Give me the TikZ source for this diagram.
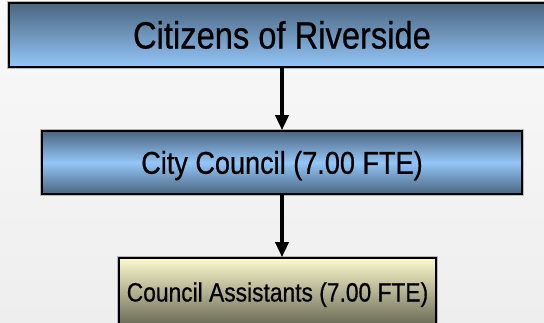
\documentclass[tikz,border=0pt]{standalone}
\usepackage{fontspec}
\newfontfamily\orgfont{Liberation Sans}[FakeStretch=0.86, FakeBold=0.6]
\usetikzlibrary{positioning, arrows.meta}
\definecolor{orgslate}{RGB}{74,101,128}
\definecolor{orgsky}{RGB}{148,198,248}
\definecolor{orgcream}{RGB}{252,250,206}
\definecolor{orgolive}{RGB}{104,104,84}
\definecolor{orgback}{RGB}{249,249,249}
\definecolor{orgbackdark}{RGB}{238,238,238}

\tikzset{
    orgbox/.style={draw=black, line width=1.6pt, inner sep=0pt,
        preaction={draw=gray!55, line width=3.4pt}},
    orglink/.style={line width=3.5pt, -{Triangle[width=13pt, length=15pt]}}
}

\begin{document}
\begin{tikzpicture}[x=1pt, y=-1pt, every node/.style={font=\orgfont}]
    \useasboundingbox (0,0) rectangle (544,322);
    \clip (0,0) rectangle (544,322);
    \shade[top color=orgback, bottom color=orgbackdark] (0,0) rectangle (544,322);

    % three levels, the top one runs off the right edge
    \node[orgbox, top color=orgslate, bottom color=orgsky,
        minimum width=546pt, minimum height=64pt,
        text height=27pt, text depth=0pt] (citizens) at (282,35)
        {\fontsize{38}{40}\selectfont Citizens of Riverside};
    \node[orgbox, top color=orgslate, bottom color=orgslate, middle color=orgsky,
        minimum width=480pt, minimum height=63pt,
        text height=22.5pt, text depth=0pt] (council) at (282,162.5)
        {\fontsize{31.5}{34}\selectfont City Council (7.00 FTE)};
    \node[orgbox, top color=orgcream, bottom color=orgolive,
        minimum width=317pt, minimum height=68pt,
        text height=19pt, text depth=0pt] (assistants) at (277.5,292)
        {\fontsize{26.5}{29}\selectfont Council Assistants (7.00 FTE)};

    \draw[orglink] (citizens) -- (council);
    \draw[orglink] (council.south) -- (council.south |- assistants.north);
\end{tikzpicture}
\end{document}
